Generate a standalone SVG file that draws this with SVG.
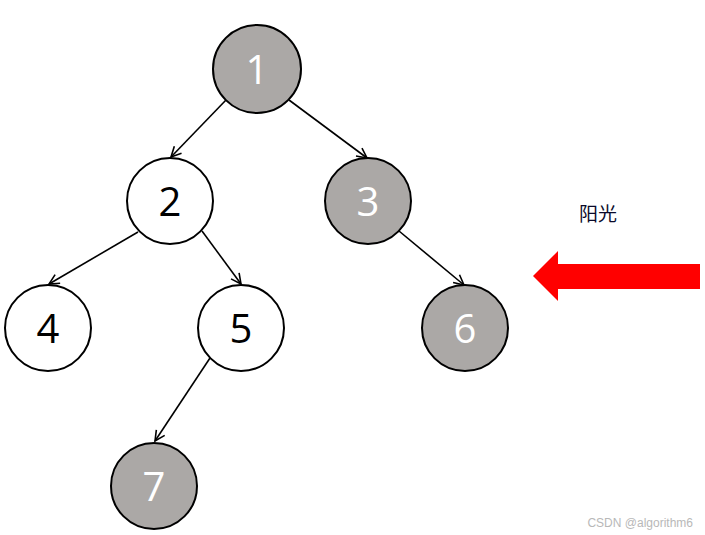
<svg xmlns="http://www.w3.org/2000/svg" width="705" height="535" viewBox="0 0 705 535">
<style>
.n circle{stroke:#000;stroke-width:2}
.w circle{fill:#fff}
.g circle{fill:#aba8a6}
.n text{font-family:"Open Sans","Liberation Sans",sans-serif;font-size:40px;text-anchor:middle}
.w text{fill:#000}
.g text{fill:#fff}
.e line{stroke:#000;stroke-width:1.6;marker-end:url(#ah)}
</style>
<defs>
<marker id="ah" viewBox="0 0 12 12" refX="11" refY="6" markerWidth="12" markerHeight="12" markerUnits="userSpaceOnUse" orient="auto">
<path d="M1,1 L11,6 L1,11" fill="none" stroke="#000" stroke-width="1.6"/>
</marker>
</defs>
<rect width="705" height="535" fill="#fff"/>
<g id="edges" class="e">
<line x1="226" y1="100" x2="171" y2="157"/>
<line x1="289" y1="100" x2="367" y2="158"/>
<line x1="399" y1="231" x2="464" y2="285"/>
<line x1="138" y1="232" x2="49" y2="284"/>
<line x1="202" y1="231" x2="241" y2="284"/>
<line x1="210" y1="358" x2="155" y2="441"/>
</g>
<g id="n1" class="n g"><circle cx="257" cy="69" r="44"/><text x="257" y="84">1</text></g>
<g id="n2" class="n w"><circle cx="170" cy="201" r="43"/><text x="170" y="216">2</text></g>
<g id="n3" class="n g"><circle cx="368" cy="201" r="43"/><text x="368" y="216">3</text></g>
<g id="n4" class="n w"><circle cx="48" cy="328" r="43"/><text x="48" y="343">4</text></g>
<g id="n5" class="n w"><circle cx="241" cy="328" r="43"/><text x="241" y="343">5</text></g>
<g id="n6" class="n g"><circle cx="465" cy="328" r="43"/><text x="465" y="343">6</text></g>
<g id="n7" class="n g"><circle cx="154" cy="486" r="43"/><text x="154" y="501">7</text></g>
<g id="sun">
<text x="579" y="221" font-family="Noto Sans CJK SC, sans-serif" font-size="19" fill="#0a0a2a">阳光</text>
<polygon points="533,276 558,251 558,264 700,264 700,289 558,289 558,301" fill="#ff0000"/>
</g>
<text x="693" y="527" text-anchor="end" font-family="Liberation Sans, sans-serif" font-size="12" fill="#b8b8b8">CSDN @algorithm6</text>
</svg>
